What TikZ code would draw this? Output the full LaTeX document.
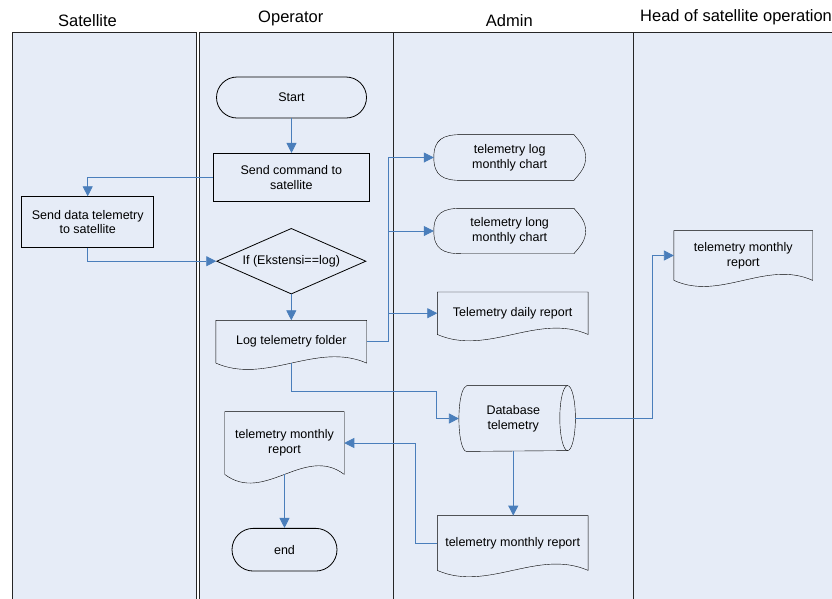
\documentclass[tikz,border=0pt]{standalone}
\usepackage{fontspec}
\setmainfont{Liberation Sans}
\usetikzlibrary{arrows.meta,calc,shapes.geometric,shapes.misc}
\definecolor{lanefill}{RGB}{230,236,247}
\definecolor{flowblue}{RGB}{74,126,187}
\newcommand{\docshape}[2]{%
  \draw [black] (#1.south west) -- (#1.north west) -- (#1.north east) -- (#1.south east)
    .. controls ($(#1.south east)!0.333!(#1.south west)+(0,#2)$) and ($(#1.south east)!0.667!(#1.south west)+(0,-#2)$) .. (#1.south west);}
\newcommand{\dispshape}[1]{%
  \draw [black] ($(#1.north west)+(27.5,0)$) -- ($(#1.north east)+(-11.7,0)$) to[out=-50,in=90] (#1.east)
    to[out=-90,in=50] ($(#1.south east)+(-11.7,0)$) -- ($(#1.south west)+(27.5,0)$)
    to[out=180,in=-90,looseness=1.3] (#1.west) to[out=90,in=180,looseness=1.3] ($(#1.north west)+(27.5,0)$) -- cycle;}
\newcommand{\dbshape}[1]{%
  \draw [black] ($(#1.north west)+(7.5,0)$) -- (#1.north east) arc[start angle=90,end angle=-90,x radius=7.8,y radius=32.5]
    -- ($(#1.south west)+(7.5,0)$) arc[start angle=270,end angle=90,x radius=7.5,y radius=32.5];
  \draw [black] (#1.north east) arc[start angle=90,end angle=270,x radius=7.8,y radius=32.5];}
\begin{document}
\begin{tikzpicture}[x=1pt,y=1pt,
    lane/.style={draw=black!85,fill=lanefill,line width=0.8pt},
    lanehead/.style={font=\fontsize{16.5}{19}\selectfont},
    proc/.style={rectangle,draw=black,line width=0.8pt},
    term/.style={rounded rectangle,draw=black,line width=0.8pt},
    decision/.style={diamond,draw=black,line width=0.8pt},
    doc/.style={rectangle,line width=0.8pt},
    flow/.style={draw=flowblue,line width=0.8pt,-{Triangle[length=10pt,width=10pt]}}]
    \tikzstyle{every node}+=[inner sep=0pt,align=center,font=\fontsize{12.5}{14.7}\selectfont]
    \useasboundingbox (0,0) rectangle (832,-598);
    \draw [lane] (12,-32) rectangle (196,-610);
    \draw [lane] (199,-32) rectangle (393,-610);
    \draw [lane] (393,-32) rectangle (633,-610);
    \draw [lane] (633,-32) rectangle (850,-610);
    \node [lanehead,anchor=base] (hsat) at (87.5,-26) {Satellite};
    \node [lanehead,anchor=base] (hop) at (290.8,-22.7) {Operator};
    \node [lanehead,anchor=base] (hadm) at (509.3,-26) {Admin};
    \node [lanehead,anchor=base west] (hhead) at (640,-21) {Head of satellite operation};
    \node [term,minimum width=150,minimum height=41] (start) at (291.5,-97.5) {Start};
    \node [proc,minimum width=156,minimum height=47.7] (cmd) at (291.3,-177.2) {Send command to\\satellite};
    \node [proc,minimum width=132,minimum height=50.6] (sdata) at (87.7,-222) {Send data telemetry\\to satellite};
    \node [decision,minimum width=149.3,minimum height=65.7,aspect=2.26] (cond) at (291.3,-261.2) {If (Ekstensi==log)};
    \node [doc,minimum width=150,minimum height=42] (logf) at (291.3,-341.7) {Log telemetry folder};
    \docshape{logf}{22}
    \node [doc,minimum width=151,minimum height=45] (chartlog) at (509.7,-157.5) {telemetry log\\monthly chart};
    \dispshape{chartlog}
    \node [doc,minimum width=151,minimum height=44.6] (chartlong) at (509.7,-231) {telemetry long\\monthly chart};
    \dispshape{chartlong}
    \node [doc,minimum width=150,minimum height=41.7] (daily) at (512.7,-313.2) {Telemetry daily report};
    \docshape{daily}{22}
    \node [doc,minimum width=107.9,minimum height=65] (db) at (513.25,-418.5) {Database\\telemetry};
    \dbshape{db}
    \node [doc,minimum width=150,minimum height=54] (admrep) at (512.7,-543) {telemetry monthly report};
    \docshape{admrep}{22}
    \node [doc,minimum width=138,minimum height=49] (headrep) at (743.3,-255.5) {telemetry monthly\\report};
    \docshape{headrep}{21}
    \node [doc,minimum width=118.7,minimum height=62] (oprep) at (284.5,-443) {telemetry monthly\\report};
    \docshape{oprep}{30}
    \node [term,minimum width=105,minimum height=42.7] (finish) at (284.5,-549.7) {end};
    \coordinate (bus) at (388,-341.7);
    \coordinate (dbin) at (436.7,-391.7);
    \draw [flow] (start.south) -- (start.south |- cmd.north);
    \draw [flow] (cmd.west) -| (sdata.north);
    \draw [flow] (sdata.south) |- (cond.west);
    \draw [flow] (cond.south) -- (logf.north);
    \draw [flow] (logf.east) -- (bus) |- (chartlog.west);
    \draw [flow] (bus) |- (chartlong.west);
    \draw [flow] (bus) |- (daily.west);
    \draw [flow] (logf.south) |- (dbin) |- (db.west);
    \draw [flow] ($(db.east)+(7.8,0)$) -| ($(headrep.west)+(-21.6,0)$) -- (headrep.west);
    \draw [flow] (db.south) -- (db.south |- admrep.north);
    \draw [flow] (admrep.west) -- ++(-22,0) |- (oprep.east);
    \draw [flow] (oprep.south) -- (finish.north);
\end{tikzpicture}
\end{document}
